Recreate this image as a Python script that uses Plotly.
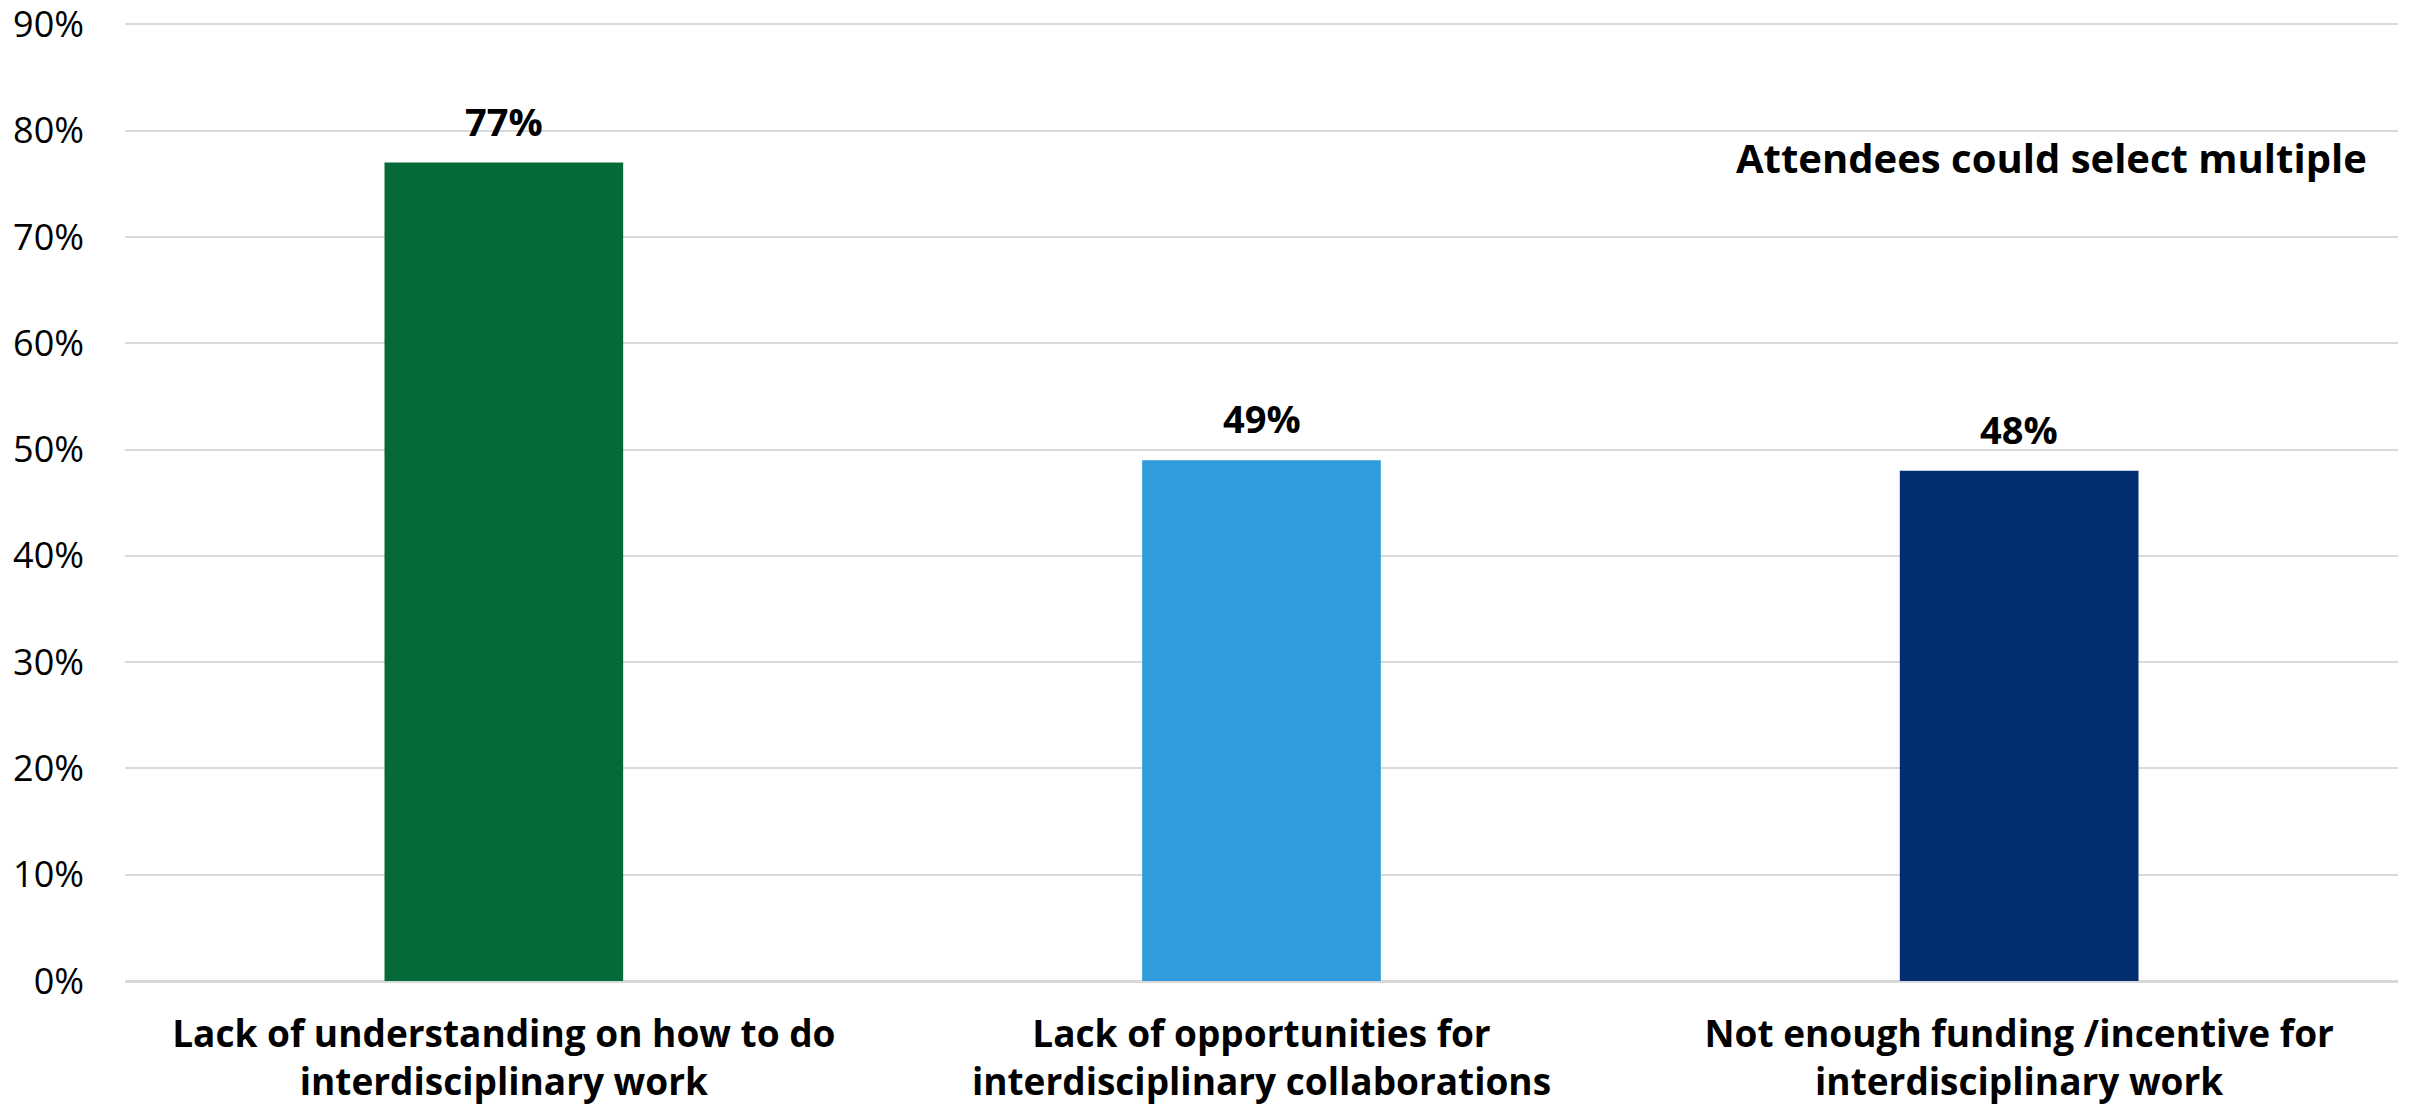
import plotly.graph_objects as go

categories = [
    "Lack of understanding on how to do<br>interdisciplinary work",
    "Lack of opportunities for<br>interdisciplinary collaborations",
    "Not enough funding /incentive for<br>interdisciplinary work",
]
values = [77, 49, 48]
value_labels = ["77%", "49%", "48%"]
bar_colors = ["#066a38", "#309cdc", "#022d6e"]
y_ticks = [0, 10, 20, 30, 40, 50, 60, 70, 80, 90]
y_tick_labels = [f"{v}%" for v in y_ticks]
note = "Attendees could select multiple"

FONT = "Open Sans"

fig = go.Figure(
    go.Bar(
        x=categories,
        y=values,
        marker=dict(color=bar_colors, line=dict(width=0)),
        width=0.315,
        hoverinfo="skip",
    )
)

annotations = [
    dict(
        x=c, y=v, xref="x", yref="y", text=t,
        xanchor="center", yanchor="bottom", yshift=14, showarrow=False,
        font=dict(family=FONT, size=38, color="black", weight="bold"),
    )
    for c, v, t in zip(categories, values, value_labels)
]
annotations.append(
    dict(
        text=note,
        x=0.9872,
        xref="paper",
        y=0.8565,
        yref="paper",
        xanchor="right",
        yanchor="middle",
        showarrow=False,
        font=dict(family=FONT, size=40, color="black", weight="bold"),
    )
)

fig.update_layout(
    width=2415,
    height=1108,
    margin=dict(l=125, r=17, t=19, b=127),
    paper_bgcolor="white",
    plot_bgcolor="white",
    showlegend=False,
    font=dict(family=FONT, color="black"),
    xaxis=dict(
        automargin=False,
        showgrid=False,
        showline=False,
        ticks="",
        tickfont=dict(family=FONT, size=37, color="black", weight="bold"),
        ticklabelstandoff=28,
    ),
    yaxis=dict(
        automargin=False,
        range=[0, 90.5],
        tickvals=y_ticks,
        ticktext=y_tick_labels,
        ticklabeloverflow="allow",
        showgrid=True,
        gridcolor="#d9d9d9",
        gridwidth=2,
        zeroline=True,
        zerolinecolor="#d9d9d9",
        zerolinewidth=3,
        showline=False,
        ticks="",
        tickfont=dict(family=FONT, size=36, color="black"),
        ticklabelstandoff=40,
    ),
    annotations=annotations,
)

fig.write_html(
    "out.html",
    config={"displayModeBar": False},
    post_script="document.body.style.margin='0px';document.body.style.overflow='hidden';",
)
